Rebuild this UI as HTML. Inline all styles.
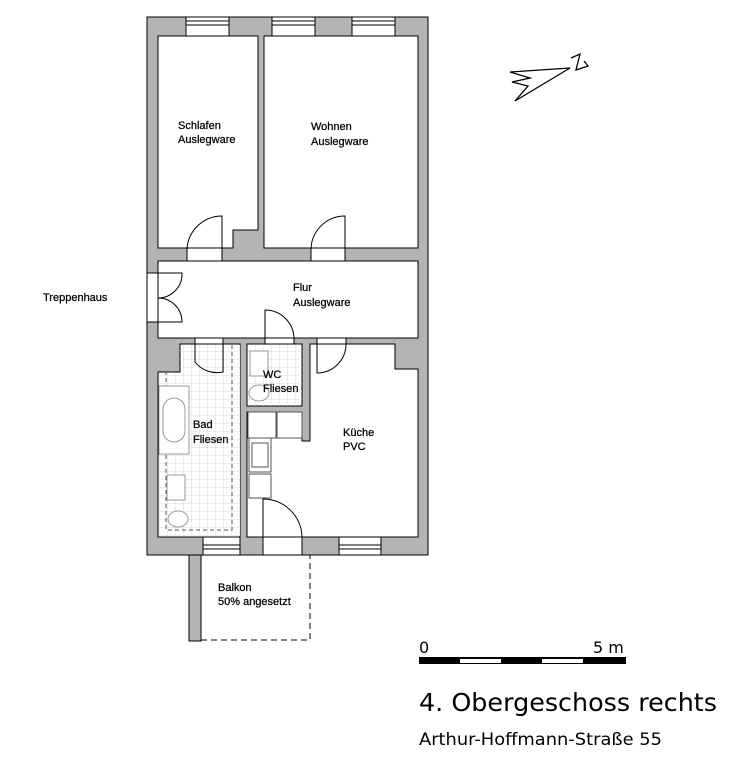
<!DOCTYPE html>
<html><head><meta charset="utf-8"><style>
html,body{margin:0;padding:0;background:#fff;}
svg{display:block;}
text{font-family:"Liberation Sans",sans-serif;fill:#000;}
.l{font-size:11px;stroke:#000;stroke-width:0.25px;}
.d{font-family:"DejaVu Sans",sans-serif;}
</style></head><body>
<svg width="734" height="767" viewBox="0 0 734 767" xmlns="http://www.w3.org/2000/svg">
<defs>
<pattern id="tile" width="8" height="8" patternUnits="userSpaceOnUse">
<path d="M8 0V8M0 8H8" stroke="#d8d8d8" stroke-width="1" fill="none"/>
</pattern>
</defs>
<rect x="147" y="17" width="281" height="538" fill="#b4b4b4" stroke="#000" stroke-width="1"/>
<g fill="#fff" stroke="#000" stroke-width="1">
<path d="M158 36H258V230H233V248H158Z"/>
<rect x="264" y="36" width="154" height="212"/>
<rect x="158" y="261" width="260" height="77"/>
<path d="M180 344H240V537H158V372H180Z"/>
<rect x="247" y="344" width="55" height="62"/>
<path d="M247 412H302V441H310V344H395V369H418V537H247Z"/>
</g>
<path d="M180 345H240V536H159V373H180Z" fill="url(#tile)"/>
<rect x="248" y="345" width="54" height="61" fill="url(#tile)"/>
<path d="M232 345V530H166V368" fill="none" stroke="#555" stroke-dasharray="4,3"/>
<rect x="159" y="386" width="30" height="68" fill="#fff" stroke="#999"/>
<rect x="163" y="398" width="22" height="44" rx="11" fill="none" stroke="#999"/>
<rect x="167" y="475" width="18" height="25" fill="#fff" stroke="#999"/>
<ellipse cx="178" cy="519" rx="10" ry="8" fill="#fff" stroke="#999"/>
<rect x="250" y="351" width="18" height="25" fill="#fff" stroke="#999"/>
<ellipse cx="259" cy="393" rx="10" ry="8" fill="#fff" stroke="#999"/>
<g fill="#fff" stroke="#555">
<rect x="248" y="412" width="28" height="26"/>
<rect x="277" y="412" width="25" height="26"/>
<rect x="249" y="438" width="22" height="34"/>
<rect x="252" y="443" width="16" height="24" fill="none"/>
<rect x="249" y="474" width="22" height="24"/>
</g>
<g fill="#fff" stroke="#000" stroke-width="1">
<rect x="186" y="17" width="43" height="19"/><rect x="186" y="21" width="43" height="4"/>
<rect x="272" y="17" width="43" height="19"/><rect x="272" y="21" width="43" height="4"/>
<rect x="352" y="17" width="43" height="19"/><rect x="352" y="21" width="43" height="4"/>
<rect x="203" y="537" width="37" height="18"/><rect x="203" y="545" width="37" height="4"/>
<rect x="339" y="537" width="42" height="18"/><rect x="339" y="545" width="42" height="4"/>
</g>
<g fill="#fff" stroke="#000">
<rect x="187" y="248" width="35" height="13"/>
<rect x="311" y="248" width="34" height="13"/>
<rect x="147" y="273" width="11" height="49"/>
<rect x="195" y="338" width="28" height="6"/>
<rect x="265" y="338" width="29" height="6"/>
<rect x="317" y="338" width="29" height="6"/>
<rect x="263" y="537" width="39" height="18"/>
</g>
<g fill="none" stroke="#000" stroke-width="1">
<path d="M222 261V216A35 35 0 0 0 187 251"/>
<path d="M345 261V216A34 34 0 0 0 311 250"/>
<path d="M158 273H182A24 24 0 0 1 158 298"/>
<path d="M158 322H182A24 24 0 0 0 158 298"/>
<path d="M195 338V362A28 28 0 0 0 223 372V344"/>
<path d="M265 338V310A29 29 0 0 1 294 339"/>
<path d="M317 344V373A29 29 0 0 0 346 344"/>
<path d="M263 537V499A39 39 0 0 1 302 537"/>
</g>
<rect x="189" y="555" width="12" height="86" fill="#b4b4b4" stroke="#000"/>
<path d="M201 640H310V555" fill="none" stroke="#000" stroke-dasharray="6,4"/>
<g fill="none" stroke="#000" stroke-width="1.3">
<path d="M570 68L510 72L530 78L512 82L528 86L515 101Z"/>
<path d="M571 58L580 54L576 70L588 66L584 61"/>
</g>
<text class="l" x="178" y="129">Schlafen</text>
<text class="l" x="178" y="143">Auslegware</text>
<text class="l" x="311" y="130">Wohnen</text>
<text class="l" x="311" y="145">Auslegware</text>
<text class="l" x="293" y="291">Flur</text>
<text class="l" x="293" y="306">Auslegware</text>
<text class="l" x="43" y="301">Treppenhaus</text>
<text class="l" x="263" y="378">WC</text>
<text class="l" x="263" y="392">Fliesen</text>
<text class="l" x="193" y="428">Bad</text>
<text class="l" x="193" y="443">Fliesen</text>
<text class="l" x="343" y="436">Küche</text>
<text class="l" x="343" y="450">PVC</text>
<text class="l" x="218" y="591">Balkon</text>
<text class="l" x="218" y="605">50% angesetzt</text>
<text class="d" x="419" y="653" style="font-size:16px">0</text>
<text class="d" x="593" y="653" style="font-size:16px">5 m</text>
<rect x="419" y="657" width="207" height="7" fill="#000"/>
<rect x="460" y="659" width="41" height="4" fill="#fff"/>
<rect x="542" y="659" width="41" height="4" fill="#fff"/>
<text class="d" x="419" y="711" style="font-size:25px" textLength="298" lengthAdjust="spacingAndGlyphs">4. Obergeschoss rechts</text>
<text class="d" x="419" y="745" style="font-size:17px" textLength="243" lengthAdjust="spacingAndGlyphs">Arthur-Hoffmann-Straße 55</text>
</svg>
</body></html>
